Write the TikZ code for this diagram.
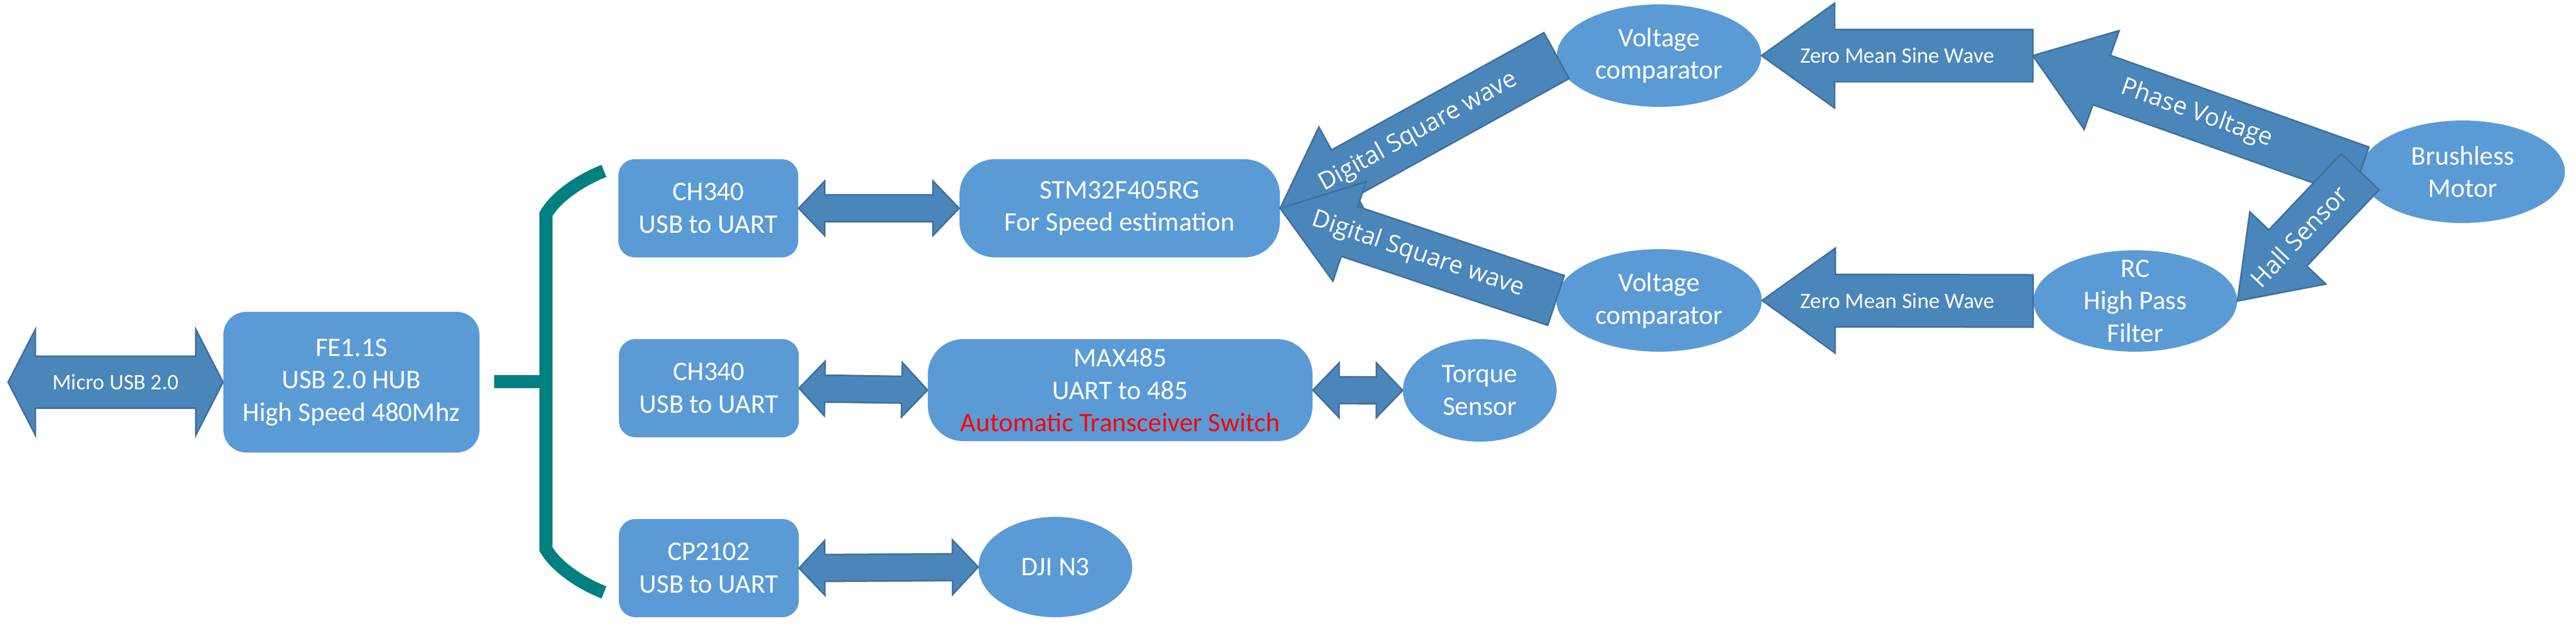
\documentclass[tikz,border=0pt]{standalone}
\usepackage{fontspec}
\setmainfont{Carlito}
\newfontfamily\slantfont{Open Sans}
\usetikzlibrary{calc,shapes.geometric}

\definecolor{boxblue}{RGB}{91,155,213}
\definecolor{arrowblue}{RGB}{74,134,186}
\definecolor{arrowline}{RGB}{65,113,156}
\definecolor{bracketteal}{RGB}{0,128,128}

\tikzset{
  box/.style={rectangle, fill=boxblue, text=white, align=center, inner sep=0pt,
    font=\fontsize{14}{17}\selectfont},
  oval/.style={ellipse, fill=boxblue, text=white, align=center, inner sep=0pt,
    font=\fontsize{14}{17}\selectfont},
  fat/.style={fill=arrowblue, draw=arrowline, line width=0.85pt, line join=miter},
  tag/.style={text=white, inner sep=0pt, font=\fontsize{11.5}{14}\selectfont},
  slanttag/.style={text=white, sloped, inner sep=0pt, font=\slantfont\fontsize{12.7}{15}\selectfont},
  bracket/.style={draw=bracketteal, line width=0.24cm},
}

% two-headed block arrow: from, to, shaft half width, head half width, head length
\newcommand{\twoway}[5]{%
  \coordinate (h1) at ($(#1)!#5!(#2)$);
  \coordinate (h2) at ($(#2)!#5!(#1)$);
  \filldraw[fat] (#1) -- ($(h1)!#4!90:(#2)$) -- ($(h1)!#3!90:(#2)$)
    -- ($(h2)!#3!90:(#2)$) -- ($(h2)!#4!90:(#2)$) -- (#2)
    -- ($(h2)!#4!-90:(#2)$) -- ($(h2)!#3!-90:(#2)$)
    -- ($(h1)!#3!-90:(#2)$) -- ($(h1)!#4!-90:(#2)$) -- cycle;}

% one-headed block arrow: tail, tip
\newcommand{\oneway}[2]{%
  \coordinate (hd) at ($(#2)!1.34cm!(#1)$);
  \filldraw[fat] ($(#1)!0.48cm!90:(#2)$) -- ($(hd)!0.48cm!90:(#2)$)
    -- ($(hd)!0.96cm!90:(#2)$) -- (#2) -- ($(hd)!0.96cm!-90:(#2)$)
    -- ($(hd)!0.48cm!-90:(#2)$) -- ($(#1)!0.48cm!-90:(#2)$) -- cycle;}

\begin{document}
\begin{tikzpicture}
    \useasboundingbox (0,0) rectangle (47.28,-11.60);

    % boxes
    \node[box, rounded corners=0.42cm, minimum width=4.70cm, minimum height=2.58cm] (hub) at (6.45,-7.01) {FE1.1S\\USB 2.0 HUB\\High Speed 480Mhz};
    \node[box, rounded corners=0.30cm, minimum width=3.30cm, minimum height=1.80cm] (uartA) at (13.00,-3.82) {CH340\\USB to UART};
    \node[box, rounded corners=0.30cm, minimum width=3.30cm, minimum height=1.80cm] (uartB) at (13.01,-7.12) {CH340\\USB to UART};
    \node[box, rounded corners=0.30cm, minimum width=3.30cm, minimum height=1.80cm] (uartC) at (13.01,-10.42) {CP2102\\USB to UART};
    \node[box, rounded corners=0.65cm, minimum width=5.88cm, minimum height=1.80cm] (stm) at (20.55,-3.82) {STM32F405RG\\For Speed estimation};
    \node[box, rounded corners=0.65cm, minimum width=7.06cm, minimum height=1.87cm] (max) at (20.56,-7.155) {MAX485\\UART to 485\\\textcolor{red}{Automatic Transceiver Switch}};

    % ovals
    \node[oval, minimum width=2.82cm, minimum height=1.88cm] (torque) at (27.16,-7.16) {Torque\\Sensor};
    \node[oval, minimum width=2.82cm, minimum height=1.84cm] (dji) at (19.37,-10.40) {DJI N3};
    \node[oval, minimum width=3.75cm, minimum height=1.88cm] (vctop) at (30.45,-1.02) {Voltage\\comparator};
    \node[oval, minimum width=3.77cm, minimum height=1.88cm] (vcbot) at (30.45,-5.51) {Voltage\\comparator};
    \node[oval, minimum width=3.75cm, minimum height=1.88cm] (motor) at (45.20,-3.15) {Brushless\\Motor};
    \node[oval, minimum width=3.74cm, minimum height=1.86cm] (rc) at (39.19,-5.52) {};
    \node[oval, fill=none] (rctext) at (rc) {RC\\High Pass\\Filter};

    \coordinate (usb) at (0.15,-7.01);
    \coordinate (pv) at (37.31,-1.02);
    \coordinate (brk) at (9.07,-7.00);

    % bracket
    \draw[bracket] (brk) -- (10.02,-7.00);
    \draw[bracket] (11.085,-3.135) .. controls (10.71,-3.28) and (10.22,-3.58) .. (10.02,-3.93)
        -- (10.02,-10.07) .. controls (10.22,-10.42) and (10.71,-10.72) .. (11.085,-10.865);

    % two-way links
    \twoway{usb}{hub.west}{0.475cm}{0.97cm}{0.50cm}
    \twoway{uartA.east}{stm.west}{0.245cm}{0.50cm}{0.48cm}
    \twoway{uartB.east}{max.west}{0.245cm}{0.50cm}{0.47cm}
    \twoway{max.east}{torque.west}{0.245cm}{0.50cm}{0.48cm}
    \twoway{uartC.east}{dji.west}{0.245cm}{0.50cm}{0.47cm}

    % signal path
    \oneway{vctop.west}{stm.east}
    \oneway{vcbot.west}{stm.east}
    \oneway{pv}{vctop.east}
    \oneway{rc.west}{vcbot.east}
    \oneway{motor.west}{pv}
    \oneway{motor.west}{rc.east}

    % labels
    \path (usb) -- node[tag] {Micro USB 2.0} (hub.west);
    \path (pv) -- node[tag] {Zero Mean Sine Wave} (vctop.east);
    \path (rc.west) -- node[tag] {Zero Mean Sine Wave} (vcbot.east);
    \path (vctop.west) -- node[slanttag] {Digital Square wave} (stm.east);
    \path (vcbot.west) -- node[slanttag] {Digital Square wave} (stm.east);
    \path (motor.west) -- node[slanttag] {Phase Voltage} (pv);
    \path (motor.west) -- node[slanttag] {Hall Sensor} (rc.east);
\end{tikzpicture}
\end{document}
